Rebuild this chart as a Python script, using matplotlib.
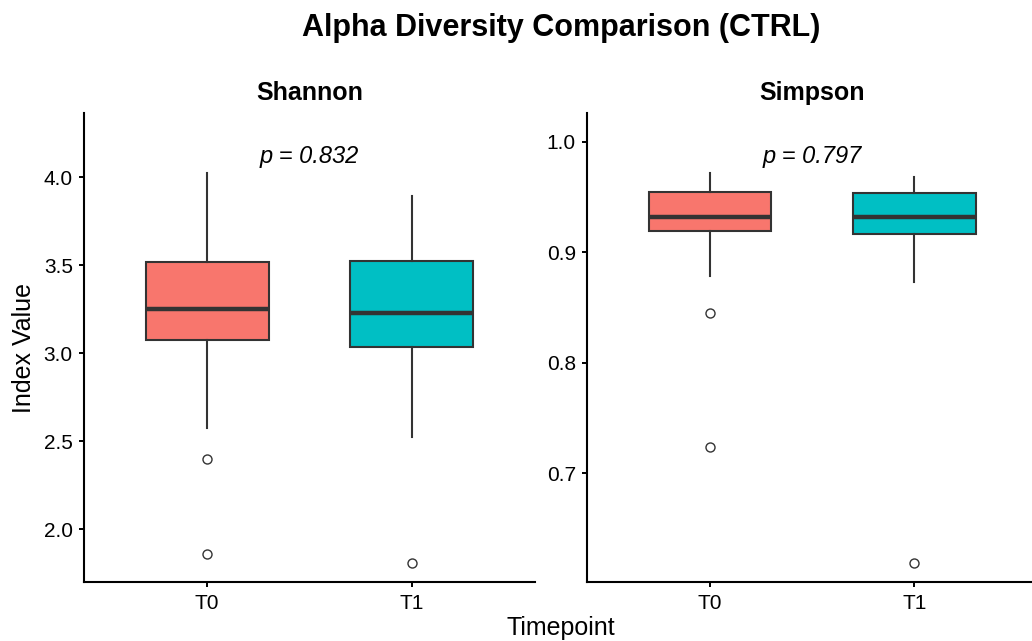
import matplotlib
matplotlib.use("Agg")
import matplotlib.pyplot as plt

plt.rcParams['font.family'] = ['Liberation Sans', 'DejaVu Sans']

# values
groups = ['T0', 'T1']
colors = ['#F8766D', '#00BFC4']

shannon_q1 = [3.078, 3.035]
shannon_med = [3.254, 3.229]
shannon_q3 = [3.519, 3.525]
shannon_lo = [2.576, 2.525]
shannon_hi = [4.023, 3.892]
shannon_out = [[2.402, 1.860], [1.808]]

simpson_q1 = [0.9193, 0.9162]
simpson_med = [0.9321, 0.9315]
simpson_q3 = [0.9546, 0.9537]
simpson_lo = [0.8787, 0.8731]
simpson_hi = [0.9713, 0.9677]
simpson_out = [[0.8453, 0.7241], [0.6189]]

panels = [
    ('Shannon', 'p = 0.832', shannon_q1, shannon_med, shannon_q3, shannon_lo, shannon_hi, shannon_out,
     (1.700, 4.364), [2.0, 2.5, 3.0, 3.5, 4.0], 4.081),
    ('Simpson', 'p = 0.797', simpson_q1, simpson_med, simpson_q3, simpson_lo, simpson_hi, simpson_out,
     (0.6016, 1.0257), [0.7, 0.8, 0.9, 1.0], 0.9807),
]

fig = plt.figure(figsize=(10.32, 6.41), dpi=100)
axes = [fig.add_axes([0.0817, 0.092, 0.4364, 0.7312]),
        fig.add_axes([0.5691, 0.092, 0.4356, 0.7312])]

for ax, (name, ptxt, q1, med, q3, lo, hi, out, ylim, yticks, ptxt_y) in zip(axes, panels):
    stats = []
    for i in range(len(groups)):
        stats.append(dict(med=med[i], q1=q1[i], q3=q3[i], whislo=lo[i], whishi=hi[i],
                          fliers=out[i], label=groups[i]))
    bp = ax.bxp(stats, positions=[1, 2], widths=0.6, patch_artist=True, showcaps=False,
                boxprops=dict(edgecolor='#333333', linewidth=1.5),
                medianprops=dict(color='#333333', linewidth=3.2, solid_capstyle='butt'),
                whiskerprops=dict(color='#333333', linewidth=1.5),
                flierprops=dict(marker='o', markerfacecolor='white', markeredgecolor='#333333',
                                markersize=6.5, markeredgewidth=1.0))
    for patch, c in zip(bp['boxes'], colors):
        patch.set_facecolor(c)

    ax.set_xlim(0.4, 2.6)
    ax.set_ylim(*ylim)
    ax.set_yticks(yticks)
    ax.set_yticklabels([f'{t:.1f}' for t in yticks])
    ax.set_xticks([1, 2])
    ax.set_xticklabels(groups)
    ax.tick_params(labelsize=15, length=3.8, width=1.4, colors='black', pad=4.5)
    for s in ['top', 'right']:
        ax.spines[s].set_visible(False)
    for s in ['left', 'bottom']:
        ax.spines[s].set_linewidth(1.5)
    ax.text(0.5, 1.0433, name, transform=ax.transAxes, fontsize=18, fontweight='bold',
            ha='center', va='center')
    ax.text(1.5, ptxt_y, ptxt, fontsize=17, style='italic', ha='center', va='baseline')

fig.text(24 / 1032, 1 - 348 / 641, 'Index Value', fontsize=18, rotation=90, ha='center', va='center')
fig.text(0.5439, 0.0203, 'Timepoint', fontsize=18, ha='center', va='center')
fig.text(0.5439, 1 - 28 / 641, 'Alpha Diversity Comparison (CTRL)', fontsize=22,
         fontweight='bold', ha='center', va='center')

fig.savefig('out.png', dpi=100)
